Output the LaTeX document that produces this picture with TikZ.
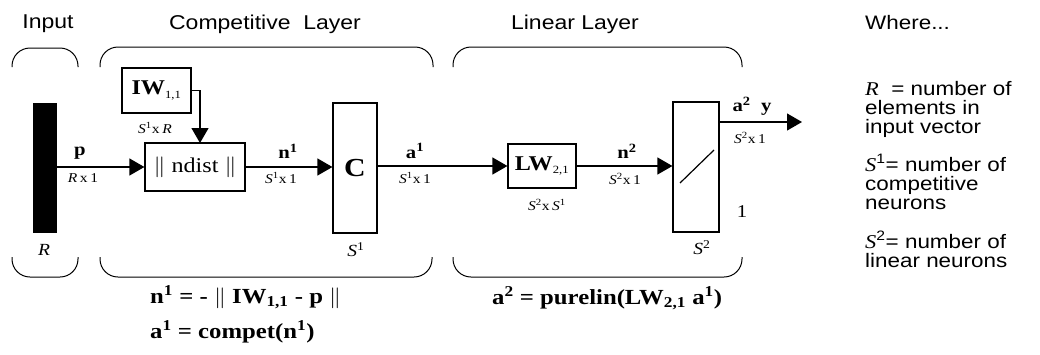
\documentclass[tikz,border=0pt]{standalone}
\usepackage{fontspec}
\setmainfont{Liberation Serif}
\setsansfont{Liberation Sans}
\usetikzlibrary{arrows.meta}
\newcommand{\sx}[1]{\scalebox{1.15}[1]{#1}}
\begin{document}
\begin{tikzpicture}[x=1pt,y=-1pt,
  box/.style={draw, line width=1.2pt, inner sep=0pt},
  conn/.style={line width=1.2pt, -{Triangle[length=15pt,width=17pt]}},
  brk/.style={line width=1pt, rounded corners=18pt},
  hdr/.style={font=\sffamily\fontsize{20}{22}\selectfont, inner sep=0pt},
  lbl/.style={font=\bfseries\fontsize{18}{20}\selectfont, inner sep=0pt},
  dim/.style={font=\fontsize{13.5}{14}\selectfont, inner sep=0pt},
  eqn/.style={font=\bfseries\fontsize{21.5}{24}\selectfont, inner sep=0pt, anchor=west},
  side/.style={font=\sffamily\fontsize{19.5}{20}\selectfont, inner sep=0pt, anchor=west,
    text height=13pt, text depth=3pt}
]
\useasboundingbox (0,0) rectangle (1040,354);

% headers
\node[hdr] (hin) at (48,24) {\sx{Input}};
\node[hdr] (hcomp) at (265,24) {\sx{Competitive\ \ Layer}};
\node[hdr] (hlin) at (575,24) {\sx{Linear Layer}};

% brackets
\draw[brk] (12,67) -- (12,48) -- (78,48) -- (78,67);
\draw[brk] (100,67) -- (100,47) -- (433,47) -- (433,67);
\draw[brk] (453,67) -- (453,47) -- (742,47) -- (742,67);
\draw[brk] (12,257) -- (12,277) -- (78,277) -- (78,257);
\draw[brk] (100,257) -- (100,277) -- (432,277) -- (432,257);
\draw[brk] (453,257) -- (453,277) -- (742,277) -- (742,257);

% blocks
\node[fill=black, inner sep=0pt, minimum width=24pt, minimum height=130pt] (bar) at (45,168) {};
\node[box, minimum width=69pt, minimum height=45pt, font=\fontsize{21}{22}\selectfont] (iw) at (156.5,90.5)
  {\sx{\textbf{IW}\textsubscript{\fontsize{11}{12}\selectfont 1,1}}};
\node[box, minimum width=100pt, minimum height=48pt, font=\fontsize{21}{22}\selectfont] (nd) at (195,167)
  {\sx{$\|$ ndist $\|$}};
\node[box, minimum width=44pt, minimum height=130pt, font=\bfseries\fontsize{26}{28}\selectfont] (cc) at (355,168) {\sx{C}};
\node[box, minimum width=68pt, minimum height=44pt, font=\fontsize{21}{22}\selectfont] (lw) at (542,166)
  {\sx{\textbf{LW}\textsubscript{\fontsize{11}{12}\selectfont 2,1}}};
\node[box, minimum width=46pt, minimum height=130pt] (pl) at (696,167) {};
\draw[line width=1.2pt] (680,183) -- (714,150);

% connectors
\coordinate (iwin) at (200,143);
\coordinate (out) at (802,122);
\draw[conn] (bar.east |- nd.west) -- (nd.west);
\draw[conn] (iw.east) -| (iwin);
\draw[conn] (nd.east) -- (cc.west |- nd.east);
\draw[conn] (cc.east |- lw.west) -- (lw.west);
\draw[conn] (lw.east) -- (pl.west |- lw.east);
\draw[conn] (pl.east |- out) -- (out);

% connector labels
\node[lbl] (lp) at (80,153) {\sx{p}};
\node[dim] (dp) at (83,178) {\sx{\textit{R}\,x\,1}};
\node[lbl] (ln1) at (288,151) {\sx{n\textsuperscript{1}}};
\node[dim] (dn1) at (281,178) {\sx{\textit{S}\textsuperscript{1}x\,1}};
\node[lbl] (la1) at (415,151) {\sx{a\textsuperscript{1}}};
\node[dim] (da1) at (415,178) {\sx{\textit{S}\textsuperscript{1}x\,1}};
\node[lbl] (ln2) at (627,151) {\sx{n\textsuperscript{2}}};
\node[dim] (dn2) at (625,179) {\sx{\textit{S}\textsuperscript{2}x\,1}};
\node[lbl] (la2) at (752,106) {\sx{a\textsuperscript{2}\ \ y}};
\node[dim] (da2) at (750,138) {\sx{\textit{S}\textsuperscript{2}x\,1}};

% dimension labels
\node[dim] (diw) at (155,128) {\sx{\textit{S}\textsuperscript{1}x\,\textit{R}}};
\node[dim] (dlw) at (547,205) {\sx{\textit{S}\textsuperscript{2}x\,\textit{S}\textsuperscript{1}}};
\node[font=\itshape\fontsize{17}{18}\selectfont, inner sep=0pt] (dR) at (44,250) {\sx{R}};
\node[font=\itshape\fontsize{17}{18}\selectfont, inner sep=0pt] (dS1) at (356,250) {\sx{S\textsuperscript{\upshape 1}}};
\node[font=\itshape\fontsize{17}{18}\selectfont, inner sep=0pt] (dS2) at (702,248) {\sx{S\textsuperscript{\upshape 2}}};
\node[font=\fontsize{18}{18}\selectfont, inner sep=0pt] (one) at (742,212) {\sx{1}};

% equations
\node[eqn] (eq1) at (150,297) {\sx{n\textsuperscript{1} = - $\|$ IW\textsubscript{1,1} - p $\|$}};
\node[eqn] (eq2) at (150,332) {\sx{a\textsuperscript{1} = compet(n\textsuperscript{1})}};
\node[eqn] (eq3) at (492,298) {\sx{a\textsuperscript{2} = purelin(LW\textsubscript{2,1} a\textsuperscript{1})}};

% legend
\node[side] (w0) at (865,24) {\sx{Where...}};
\node[side] (w1) at (865,90) {\sx{{\rmfamily\itshape R}\ \ = number of}};
\node[side] (w2) at (865,109) {\sx{elements in}};
\node[side] (w3) at (865,128) {\sx{input vector}};
\node[side] (w4) at (865,166) {\sx{{\rmfamily\itshape S}\textsuperscript{1}= number of}};
\node[side] (w5) at (865,185) {\sx{competitive}};
\node[side] (w6) at (865,204) {\sx{neurons}};
\node[side] (w7) at (865,243) {\sx{{\rmfamily\itshape S}\textsuperscript{2}= number of}};
\node[side] (w8) at (865,262) {\sx{linear neurons}};
\end{tikzpicture}
\end{document}
